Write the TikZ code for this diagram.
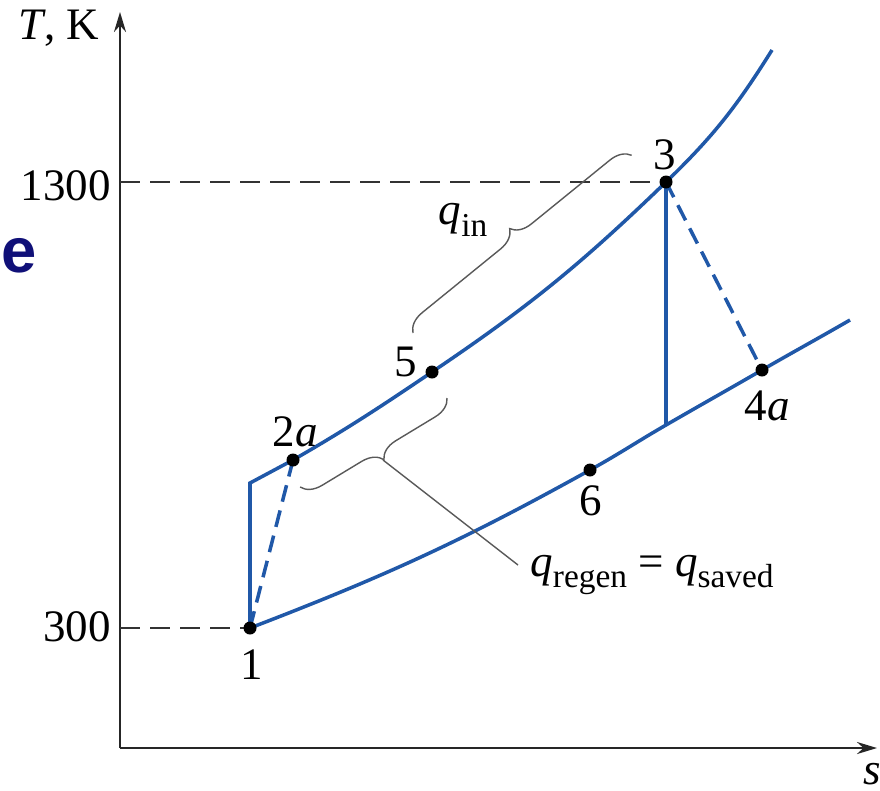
\documentclass[tikz,border=0pt]{standalone}
\usepackage{fontspec}
\setmainfont{Liberation Serif}
\newfontfamily\marksans{Liberation Sans}
\usetikzlibrary{arrows.meta,decorations.pathreplacing}
\definecolor{cycblue}{RGB}{32,88,168}
\definecolor{markblue}{RGB}{16,16,120}
\newcommand{\qs}[1]{\textit{q}\raisebox{-0.55ex}{\fontsize{9.5}{10}\selectfont #1}}

\begin{document}
\begin{tikzpicture}[x=0.01cm,y=0.01cm,
  cyc/.style={cycblue,line width=1pt},
  cycdash/.style={cyc,dash pattern=on 0.17cm off 0.09cm},
  refline/.style={black!80,line width=0.6pt,dash pattern=on 0.2cm off 0.1cm},
  dot/.style={circle,fill=black,inner sep=0pt,minimum size=0.13cm},
  lab/.style={font=\fontsize{12.8}{14}\selectfont,inner sep=1pt},
  brc/.style={black!65,line width=0.4pt,decorate,decoration={brace,amplitude=0.2cm}}]
\useasboundingbox (0,0) rectangle (880,790);
% axes
\coordinate (O) at (120,42);
\coordinate (ytip) at (120,778);
\coordinate (xtip) at (877,42);
\draw[black!85,line width=0.7pt,-{Stealth[length=0.2cm,width=0.12cm]}] (O) -- (ytip);
\draw[black!85,line width=0.7pt,-{Stealth[length=0.2cm,width=0.12cm]}] (O) -- (xtip);
\node[lab] (tk) at (59,762) {\textit{T}, K};
\node[lab] (sax) at (872,16) {\textit{s}};
% states
\coordinate (p1) at (250,162);
\coordinate (c2s) at (250,307);
\coordinate (p2a) at (293,330);
\coordinate (p5) at (432,418);
\coordinate (p3) at (666,608);
\coordinate (c3e) at (772,740);
\coordinate (p6) at (590,320);
\coordinate (c4) at (666,365);
\coordinate (p4a) at (762,420);
\coordinate (c4e) at (850,470);
\coordinate (t1300) at (120,608);
\coordinate (t300) at (120,162);
% reference temperatures
\draw[refline] (t1300) -- (p3);
\draw[refline] (t300) -- (p1);
\node[lab,anchor=east] (k1300) at (t1300) [xshift=-0.05cm,yshift=-0.04cm] {1300};
\node[lab,anchor=east] (k300) at (t300) [xshift=-0.05cm,yshift=0.01cm] {300};
% cycle
\draw[cyc] (p1) -- (c2s) -- (p2a) to[out=30,in=214] (p5) to[out=34,in=224] (p3) to[out=44,in=238] (c3e);
\draw[cyc] (p1) to[out=21,in=209] (p6) to[out=29,in=210] (c4) to[out=30,in=210] (p4a) to[out=30,in=210] (c4e);
\draw[cyc] (p3) -- (c4);
\draw[cycdash] (p2a) -- (p1);
\draw[cycdash] (p3) -- (p4a);
\foreach \p in {p1,p2a,p5,p3,p6,p4a}{\node[dot] (d\p) at (\p) {};}
\node[lab] (l1) at (252,125) {1};
\node[lab] (l2a) at (295,358) {2\textit{a}};
\node[lab] (l5) at (406,428) {5};
\node[lab] (l3) at (665,635) {3};
\node[lab] (l6) at (591,289) {6};
\node[lab] (l4a) at (767,384) {4\textit{a}};
% heat braces
\draw[brc] (413,457) -- (632,635);
\node[lab] (qin) at (463,570) {\qs{in}};
\draw[brc] (447,392) -- (300,303);
\coordinate (regtip) at (383,330);
\coordinate (leadend) at (518,225);
\draw[black!65,line width=0.4pt] (regtip) -- (leadend);
\node[lab] (qreg) at (652,215) {\qs{regen} = \qs{saved}};
\node[font=\marksans\bfseries\fontsize{18}{18}\selectfont,text=markblue,inner sep=0pt] (emark) at (19,534) {e};
\end{tikzpicture}
\end{document}
